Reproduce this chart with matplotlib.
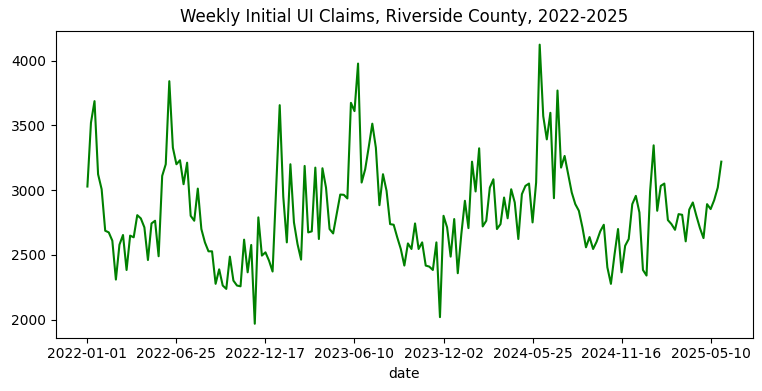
import pandas as pd
import matplotlib
matplotlib.use("Agg")
import matplotlib.pyplot as plt
from matplotlib.ticker import FuncFormatter, MultipleLocator

# weekly initial claims
claims_2022 = [3028, 3520, 3687, 3123, 3007, 2687, 2674, 2610, 2310, 2579,
               2654, 2384, 2649, 2636, 2807, 2782, 2713, 2461, 2743, 2764,
               2490, 3110, 3200, 3841, 3328, 3200, 3231, 3046, 3212, 2802,
               2764, 3012, 2700, 2597, 2528, 2528, 2277, 2389, 2264, 2238,
               2487, 2302, 2264, 2258, 2618, 2366, 2577, 1969, 2790, 2495,
               2520, 2456]
claims_2023 = [2372, 3013, 3656, 2950, 2597, 3200, 2751, 2584, 2464, 3187,
               2674, 2682, 3174, 2623, 3169, 3020, 2700, 2666, 2815, 2966,
               2964, 2936, 3674, 3610, 3977, 3059, 3161, 3333, 3513, 3328,
               2884, 3123, 2995, 2738, 2733, 2636, 2546, 2418, 2589, 2546,
               2743, 2546, 2597, 2418, 2410, 2384, 2597, 2020, 2802, 2713,
               2487, 2777, 2359]
claims_2024 = [2661, 2918, 2707, 3220, 2990, 3323, 2720, 2764, 3020, 3084,
               2700, 2738, 2943, 2783, 3007, 2905, 2623, 2969, 3033, 3051,
               2751, 3059, 4123, 3571, 3392, 3597, 2938, 3769, 3174, 3264,
               3123, 2982, 2892, 2841, 2713, 2559, 2638, 2546, 2603, 2682,
               2733, 2405, 2277, 2500, 2700, 2366, 2571, 2623, 2892, 2956,
               2828, 2384, 2341]
claims_2025 = [2990, 3346, 2841, 3033, 3051, 2769, 2738, 2694, 2815, 2810,
               2605, 2850, 2905, 2802, 2707, 2630, 2892, 2854, 2923, 3020,
               3220]

claims = claims_2022 + claims_2023 + claims_2024 + claims_2025
dates = pd.date_range("2022-01-01", periods=len(claims), freq="7D").strftime("%Y-%m-%d").tolist()

fig = plt.figure(figsize=(7.62, 3.91), dpi=100)
ax = fig.add_axes([0.0731, 0.1363, 0.9151, 0.7852])

x = list(range(len(claims)))
ax.plot(x, claims, color="green")

# string index like pandas: integer positions, labels from the dates
ax.xaxis.set_major_locator(MultipleLocator(25))
ax.xaxis.set_major_formatter(FuncFormatter(
    lambda v, pos: dates[int(v)] if 0 <= int(v) < len(dates) and v == int(v) else ""))

ax.set_title("Weekly Initial UI Claims, Riverside County, 2022-2025")
ax.set_xlabel("date")

fig.savefig("out.png", dpi=100)
